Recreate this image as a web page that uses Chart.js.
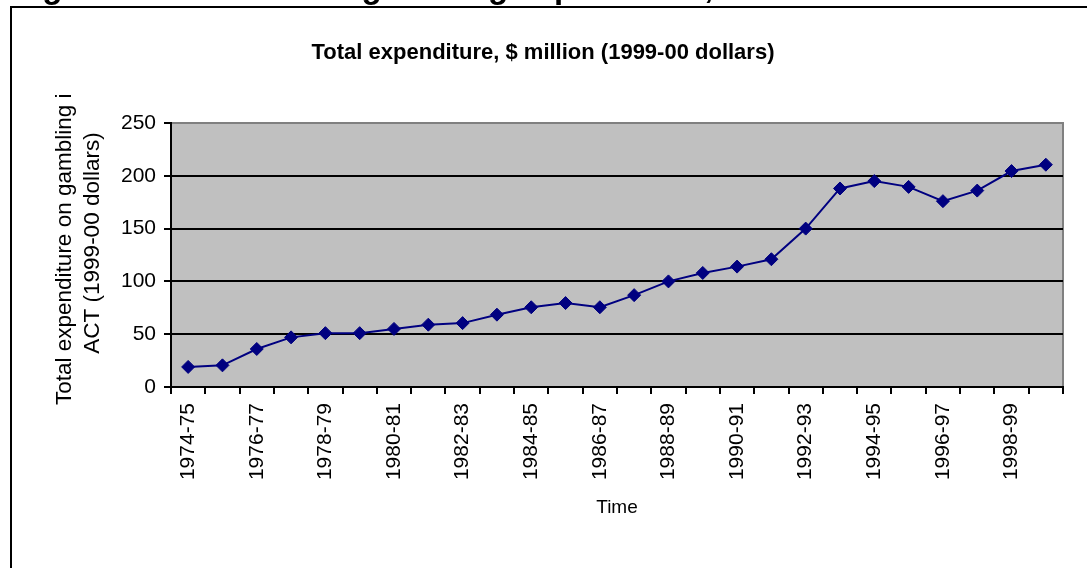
<!DOCTYPE html>
<html>
<head>
<meta charset="utf-8">
<title>ACT gambling expenditure</title>
<script src="https://cdn.jsdelivr.net/npm/chart.js@4.4.1/dist/chart.umd.min.js"></script>
<style>
  body { margin: 0; background: #fff; }
  #wrap { width: 1087px; height: 568px; }
</style>
</head>
<body>
<div id="wrap"><canvas id="gamblingChart" width="1087" height="568"></canvas></div>
<script>
// financial years shown on the x axis
var years = ["1974-75", "1975-76", "1976-77", "1977-78", "1978-79", "1979-80", "1980-81",
    "1981-82", "1982-83", "1983-84", "1984-85", "1985-86", "1986-87", "1987-88", "1988-89",
    "1989-90", "1990-91", "1991-92", "1992-93", "1993-94", "1994-95", "1995-96", "1996-97",
    "1997-98", "1998-99", "1999-00"];

// total expenditure, $ million in 1999-00 dollars
var spending = [19, 20.5, 36, 47, 51, 51, 55, 59, 60.5, 68.5, 75.5, 79.5, 75.5, 87, 100,
    108, 114, 121, 150, 188, 195, 189.5, 176, 186, 204.5, 210.5];

var yTicks = [0, 50, 100, 150, 200, 250];

var heading = "Figure 2.11: ACT total gambling expenditure, 1974-75 to 1999-00";
var chartTitle = "Total expenditure, $ million (1999-00 dollars)";
var yTitle = ["Total expenditure on gambling in", "ACT (1999-00 dollars)"];
var xTitle = "Time";

var fontName = '"Liberation Sans", Arial, sans-serif';

// grey plot area, outer frame and the texts chart.js doesn't place for us
var decor = {
    id: 'decor',
    beforeDraw: function(chart) {
        var ctx = chart.ctx;
        var a = chart.chartArea;
        ctx.save();
        ctx.fillStyle = '#fff';
        ctx.fillRect(0, 0, chart.width, chart.height);

        // frame around the whole object
        ctx.strokeStyle = '#000';
        ctx.lineWidth = 2;
        ctx.beginPath();
        ctx.moveTo(11, chart.height);
        ctx.lineTo(11, 7);
        ctx.lineTo(chart.width, 7);
        ctx.stroke();

        // plot background
        ctx.fillStyle = '#c0c0c0';
        ctx.fillRect(a.left, a.top, a.right - a.left, a.bottom - a.top);
        ctx.strokeStyle = '#808080';
        ctx.lineWidth = 2;
        ctx.strokeRect(a.left, a.top, a.right - a.left, a.bottom - a.top);

        // page heading sits mostly above the top edge
        ctx.fillStyle = '#000';
        ctx.font = 'bold 33px ' + fontName;
        ctx.textAlign = 'left';
        ctx.textBaseline = 'alphabetic';
        ctx.fillText(heading, 13, -2);

        ctx.font = 'bold 22px ' + fontName;
        ctx.textAlign = 'center';
        ctx.fillText(chartTitle, 543, 59);

        // y axis title, two lines, cut off at the top like the original box
        ctx.save();
        ctx.beginPath();
        ctx.rect(0, 95, a.left, chart.height - 95);
        ctx.clip();
        ctx.translate(0, 243);
        ctx.rotate(-Math.PI / 2);
        ctx.font = '22.5px ' + fontName;
        ctx.textAlign = 'center';
        ctx.textBaseline = 'middle';
        ctx.fillText(yTitle[0], 0, 65);
        ctx.fillText(yTitle[1], 0, 93);
        ctx.restore();

        ctx.restore();
    }
};

var ctx = document.getElementById('gamblingChart');
var myChart = new Chart(ctx, {
    type: 'line',
    data: {
        labels: years,
        datasets: [{
            label: 'Total expenditure',
            data: spending,
            borderColor: '#000080',
            borderWidth: 2,
            backgroundColor: '#000080',
            pointStyle: 'rectRot',
            pointRadius: 6.5,
            pointBackgroundColor: '#000080',
            pointBorderColor: '#000080',
            pointBorderWidth: 1,
            tension: 0,
            fill: false
        }]
    },
    options: {
        responsive: false,
        animation: false,
        devicePixelRatio: 1,
        layout: { padding: { top: 123, right: 24, bottom: 0, left: 0 } },
        plugins: {
            legend: { display: false },
            tooltip: { enabled: false },
            title: { display: false }
        },
        scales: {
            x: {
                type: 'category',
                offset: true,
                grid: { offset: true, drawOnChartArea: false, drawTicks: true, tickLength: 7, color: '#000', lineWidth: 2 },
                border: { display: true, color: '#000', width: 2 },
                ticks: {
                    autoSkip: false,
                    minRotation: 90,
                    maxRotation: 90,
                    padding: 9,
                    color: '#000',
                    font: { family: fontName, size: 21 },
                    callback: function(value, index) {
                        return index % 2 === 0 ? years[index] : '';
                    }
                },
                title: {
                    display: true,
                    text: xTitle,
                    color: '#000',
                    font: { family: fontName, size: 19 },
                    padding: { top: 0, bottom: 49 }
                },
                afterFit: function(scale) { scale.height = 181; }
            },
            y: {
                min: 0,
                max: 250,
                afterBuildTicks: function(scale) {
                    scale.ticks = yTicks.map(function(v) { return { value: v }; });
                },
                ticks: { padding: 8, color: '#000', font: { family: fontName, size: 21 } },
                grid: {
                    color: function(c) { return c.tick && c.tick.value === 250 ? '#808080' : '#000'; },
                    tickColor: '#000',
                    lineWidth: 2,
                    tickLength: 7
                },
                border: { display: true, color: '#000', width: 2 },
                afterFit: function(scale) { scale.width = 171; }
            }
        }
    },
    plugins: [decor]
});
</script>
</body>
</html>
